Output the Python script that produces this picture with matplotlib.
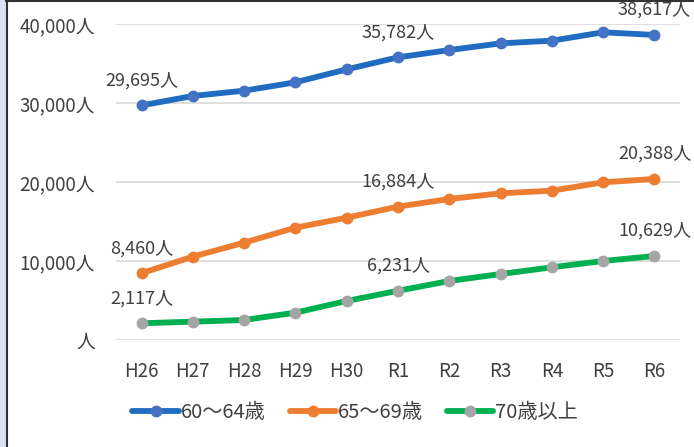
import matplotlib
matplotlib.use("Agg")
import matplotlib.pyplot as plt
from matplotlib.lines import Line2D
from matplotlib.patches import Rectangle

plt.rcParams['font.family'] = ['Noto Sans CJK JP', 'DejaVu Sans']

years = ["H26", "H27", "H28", "H29", "H30", "R1", "R2", "R3", "R4", "R5", "R6"]
age_60_64 = [29695, 30890, 31560, 32620, 34260, 35782, 36700, 37550, 37890, 38950, 38617]
age_65_69 = [8460, 10550, 12320, 14220, 15480, 16884, 17850, 18570, 18900, 19960, 20388]
age_70_up = [2117, 2320, 2530, 3460, 4940, 6231, 7470, 8350, 9200, 10000, 10629]
series_names = ["60～64歳", "65～69歳", "70歳以上"]
label_idx = [0, 5, 10]

fig = plt.figure(figsize=(6.94, 4.47), dpi=100)
ax = fig.add_axes([0.167, 0.2394, 0.813, 0.7069])

styles = [
    (age_60_64, "#1f6cc0", "#4472c4"),
    (age_65_69, "#ed7d31", "#ed7d31"),
    (age_70_up, "#00b050", "#a5a5a5"),
]
x = range(len(years))
handles = []
for (vals, lc, mc), name in zip(styles, series_names):
    ax.plot(x, vals, color=lc, lw=4.2, marker="o", ms=7.5,
            mfc=mc, mec=mc, clip_on=False, zorder=3, solid_capstyle="round")
    handles.append(Line2D([], [], color=lc, lw=4.2, marker="o", ms=7.5,
                          mfc=mc, mec=mc, solid_capstyle="round"))
    for i in label_idx:
        ax.annotate(f"{vals[i]:,}人", (i, vals[i]), xytext=(0, 18),
                    textcoords="offset points", ha="center", va="center",
                    fontsize=13, color="#404040")

ax.set_xlim(-0.5, 10.5)
ax.set_ylim(0, 40000)
ax.set_xticks(list(x))
ax.set_xticklabels(years)
ax.set_yticks([0, 10000, 20000, 30000, 40000])
ax.set_yticklabels(["人"] + [f"{v:,}人" for v in [10000, 20000, 30000, 40000]])
ax.tick_params(axis="both", length=0, labelsize=13.5, labelcolor="#404040")
ax.tick_params(axis="y", pad=15)
ax.tick_params(axis="x", pad=15)
ax.grid(axis="y", color="#d9d9d9", lw=1.2)
ax.set_axisbelow(True)
for s in ax.spines.values():
    s.set_visible(False)

fig.legend(handles, series_names, loc="center", bbox_to_anchor=(0.512, 0.078),
           ncol=3, frameon=False, fontsize=14.5, handlelength=2.3,
           handletextpad=0.1, columnspacing=1.2, labelcolor="#404040")

# outer frame: light strip on the left, dark rules at left and top
fig.patches.append(Rectangle((0, 0), 6 / 694, 1, transform=fig.transFigure,
                             facecolor="#dce3ef", edgecolor="none"))
fig.add_artist(Line2D([6.5 / 694, 6.5 / 694], [0, 1], color="#333333", lw=1.5,
                      transform=fig.transFigure))
fig.add_artist(Line2D([6 / 694, 1], [1 - 0.5 / 447, 1 - 0.5 / 447], color="#333333",
                      lw=1.5, transform=fig.transFigure))

fig.savefig("out.png", dpi=100)
